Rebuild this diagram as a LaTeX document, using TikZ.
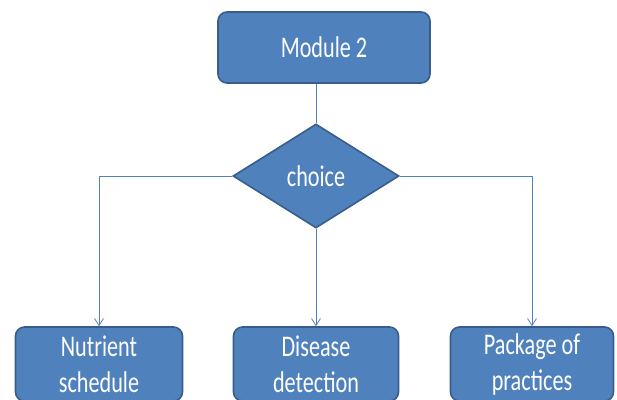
\documentclass[tikz,border=0pt]{standalone}
\usepackage{fontspec}
\setmainfont{Carlito}
\newfontfamily\boxfont[FakeStretch=0.74]{Carlito}
\usetikzlibrary{shapes.geometric,arrows.meta}
\definecolor{boxfill}{HTML}{4F81BD}
\definecolor{boxedge}{HTML}{385D8A}
\tikzset{
  bluebox/.style={draw=boxedge, fill=boxfill, line width=1.6pt, rounded corners=9pt,
    text=white, font=\boxfont\fontsize{30}{36}\selectfont, align=center, inner sep=0pt},
  choicebox/.style={diamond, draw=boxedge, fill=boxfill, line width=1.6pt,
    text=white, font=\boxfont\fontsize{30}{36}\selectfont, inner sep=0pt,
    minimum width=166pt, minimum height=104pt},
  conn/.style={draw=boxfill, line width=0.8pt},
  arr/.style={conn, -{Straight Barb[length=7pt,width=9pt,line width=0.8pt]}}
}
\begin{document}
\begin{tikzpicture}[x=1pt,y=-1pt]
\useasboundingbox (0,0) rectangle (617,399);
\clip (0,0) rectangle (617,399);
\node[bluebox, minimum width=212pt, minimum height=71pt] (mod) at (324,47.5) {Module 2};
\node[choicebox] (ch) at (316,176) {choice};
\node[bluebox, minimum width=167pt, minimum height=74pt] (nut) at (99,364) {Nutrient\\schedule};
\node[bluebox, minimum width=165pt, minimum height=74pt] (dis) at (316,364) {Disease\\detection};
\node[bluebox, minimum width=163pt, minimum height=74pt] (pop) at (532,364) {Package of\\practices};
\draw[conn] (mod.south -| ch.north) -- (ch.north);
\draw[arr] (ch.west) -| (nut.north);
\draw[arr] (ch.south) -- (dis.north);
\draw[arr] (ch.east) -| (pop.north);
\end{tikzpicture}
\end{document}
